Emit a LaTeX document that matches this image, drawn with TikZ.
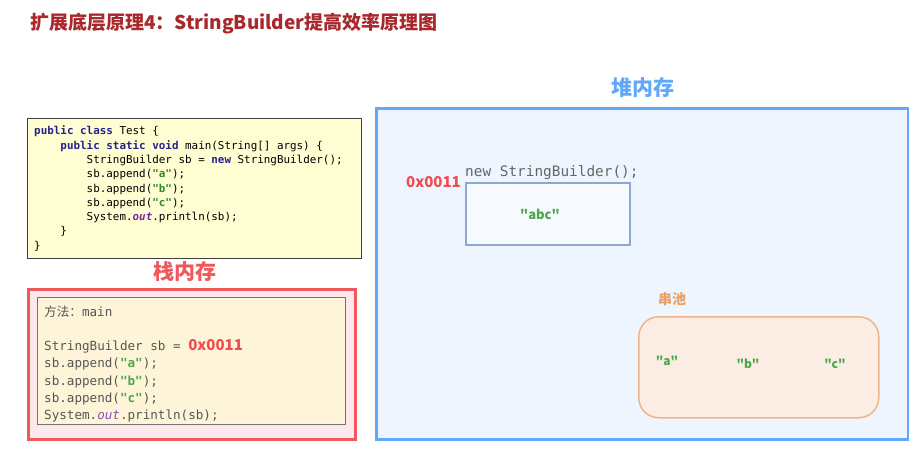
\documentclass[tikz,border=0pt]{standalone}
\usepackage{fontspec}
\setmainfont{Noto Sans CJK SC}
\setmonofont{DejaVu Sans Mono}
\newfontfamily\cjk{Noto Sans CJK SC}
\definecolor{titlered}{HTML}{A8282C}
\definecolor{stackred}{HTML}{F0585C}
\definecolor{stackfill}{HTML}{FDE9EC}
\definecolor{heapblue}{HTML}{62A8F8}
\definecolor{heapfill}{HTML}{EEF5FE}
\definecolor{codefill}{HTML}{FFFDD2}
\definecolor{innerfill}{HTML}{FEF5D8}
\definecolor{kw}{HTML}{23238C}
\definecolor{strg}{HTML}{2E8B2E}
\definecolor{strg2}{HTML}{4CA84C}
\definecolor{outc}{HTML}{7A2AA0}
\definecolor{outc2}{HTML}{8A4FB8}
\definecolor{objblue}{HTML}{8AA8D2}
\definecolor{objfill}{HTML}{F6FAFE}
\definecolor{poolfill}{HTML}{FBEDE4}
\definecolor{poolline}{HTML}{F0B48A}
\definecolor{poolorange}{HTML}{E8A064}
\definecolor{addrred}{HTML}{F04C50}
\definecolor{graytext}{HTML}{555555}
\tikzset{
  box/.style={draw, anchor=north west, inner sep=0pt},
  lbl/.style={inner sep=0pt},
}
\newcommand\kwd[1]{\textcolor{kw}{\bfseries #1}}
\newcommand\strA[1]{\textcolor{strg}{\bfseries #1}}
\newcommand\strB[1]{\textcolor{strg2}{\bfseries #1}}
\begin{document}
\begin{tikzpicture}[x=1pt,y=-1pt]
\useasboundingbox[fill=white] (0,0) rectangle (909,448);
% title
\node[lbl, anchor=west, text=titlered, font=\cjk\bfseries\fontsize{19}{19}\selectfont] (title) at (30,24) {扩展底层原理4：StringBuilder提高效率原理图};
% code box
\node[box, fill=codefill, draw=black!75, line width=1.2pt, minimum width=334pt, minimum height=140pt] (code) at (27,118) {};
\node[lbl, anchor=north west, align=left, font=\ttfamily\fontsize{10.9}{14.3}\selectfont] (codetext) at (34,125.8) {%
\kwd{public class} Test \{\\
\phantom{0000}\kwd{public static void} main(String[] args) \{\\
\phantom{00000000}StringBuilder sb = \kwd{new} StringBuilder();\\
\phantom{00000000}sb.append(\strA{"a"});\\
\phantom{00000000}sb.append(\strA{"b"});\\
\phantom{00000000}sb.append(\strA{"c"});\\
\phantom{00000000}System.\textcolor{outc}{\bfseries\itshape out}.println(sb);\\
\phantom{0000}\}\\
\}};
% stack
\node[lbl, text=stackred, font=\cjk\bfseries\fontsize{21}{21}\selectfont] (stacktitle) at (185,272) {栈内存};
\node[box, fill=stackfill, draw=stackred, line width=3pt, minimum width=327pt, minimum height=150pt] (stack) at (27,288) {};
\node[box, fill=innerfill, draw=black!55, line width=1pt, minimum width=308pt, minimum height=127pt] (frame) at (37,297) {};
\node[lbl, anchor=north west, align=left, text=graytext, font=\ttfamily\fontsize{12.6}{17.2}\selectfont] (frametext) at (44,305.5) {%
{\cjk 方法：}main\\
\mbox{}\\
StringBuilder sb = {\cjk\bfseries\fontsize{15}{15}\selectfont\textcolor{addrred}{0x0011}}\\
sb.append(\strB{"a"});\\
sb.append(\strB{"b"});\\
sb.append(\strB{"c"});\\
System.\textcolor{outc2}{\itshape out}.println(sb);};
% heap
\node[lbl, text=heapblue, font=\cjk\bfseries\fontsize{21}{21}\selectfont] (heaptitle) at (643,88) {堆内存};
\node[box, fill=heapfill, draw=heapblue, line width=3pt, minimum width=532pt, minimum height=331pt] (heap) at (375,107) {};
\node[lbl, anchor=base west, text=black!60, font=\ttfamily\fontsize{14.4}{14.4}\selectfont] (newsb) at (465,176) {new StringBuilder();};
\node[box, fill=objfill, draw=objblue, line width=1.5pt, minimum width=164pt, minimum height=62pt] (obj) at (465,182) {};
\node[lbl, anchor=east, text=addrred, font=\cjk\bfseries\fontsize{15}{15}\selectfont] (addr) at (461,182) {0x0011};
\node[lbl, text=strg2, font=\cjk\bfseries\fontsize{13}{13}\selectfont] (abc) at (540,214) {"abc"};
% string pool
\node[lbl, text=poolorange, font=\cjk\bfseries\fontsize{14}{14}\selectfont] (pooltitle) at (672,299) {串池};
\node[box, fill=poolfill, draw=poolline, line width=1.5pt, rounded corners=20pt, minimum width=240pt, minimum height=101pt] (pool) at (638,316) {};
\node[lbl, text=strg2, font=\cjk\bfseries\fontsize{12}{12}\selectfont] (sa) at (667,361) {"a"};
\node[lbl, text=strg2, font=\cjk\bfseries\fontsize{12}{12}\selectfont] (sbb) at (748,364) {"b"};
\node[lbl, text=strg2, font=\cjk\bfseries\fontsize{12}{12}\selectfont] (sc) at (835,364) {"c"};
\end{tikzpicture}
\end{document}
